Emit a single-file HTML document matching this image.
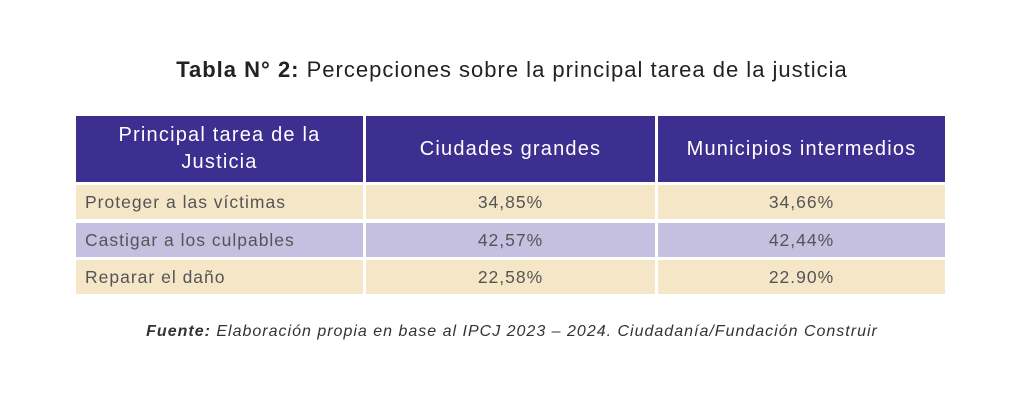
<!DOCTYPE html>
<html><head><style>
body{margin:0;width:1024px;height:418px;background:#fff;font-family:"Liberation Sans",sans-serif;position:relative;overflow:hidden}
.t{position:absolute;top:57px;left:0;width:1024px;text-align:center;font-size:22px;letter-spacing:1px;color:#222}
.c{position:absolute;box-sizing:border-box;display:flex;align-items:center;justify-content:center;font-size:17.5px;letter-spacing:1px;color:#555}
.h{background:#3d2f8f;color:#fff;font-size:20px;letter-spacing:1.2px;text-align:center;line-height:27px}
.b{background:#f5e6c8}.l{background:#c5c0e0}
.left{justify-content:flex-start;padding-left:9px}
.s{position:absolute;top:323px;left:0;width:1024px;text-align:center;font-size:16px;letter-spacing:1px;font-style:italic;color:#333}
</style></head><body>
<div class="t"><b>Tabla N° 2:</b> Percepciones sobre la principal tarea de la justicia</div>
<div class="c h" style="left:76px;top:116px;width:287px;height:66px">Principal tarea de la<br>Justicia</div>
<div class="c h" style="left:366px;top:116px;width:289px;height:66px">Ciudades grandes</div>
<div class="c h" style="left:658px;top:116px;width:287px;height:66px">Municipios intermedios</div>

<div class="c b left" style="left:76px;top:185px;width:287px;height:34px">Proteger a las víctimas</div>
<div class="c b" style="left:366px;top:185px;width:289px;height:34px">34,85%</div>
<div class="c b" style="left:658px;top:185px;width:287px;height:34px">34,66%</div>

<div class="c l left" style="left:76px;top:223px;width:287px;height:34px">Castigar a los culpables</div>
<div class="c l" style="left:366px;top:223px;width:289px;height:34px">42,57%</div>
<div class="c l" style="left:658px;top:223px;width:287px;height:34px">42,44%</div>

<div class="c b left" style="left:76px;top:260px;width:287px;height:34px">Reparar el daño</div>
<div class="c b" style="left:366px;top:260px;width:289px;height:34px">22,58%</div>
<div class="c b" style="left:658px;top:260px;width:287px;height:34px">22.90%</div>

<div class="s"><b>Fuente:</b> Elaboración propia en base al IPCJ 2023 – 2024. Ciudadanía/Fundación Construir</div>
</body></html>
